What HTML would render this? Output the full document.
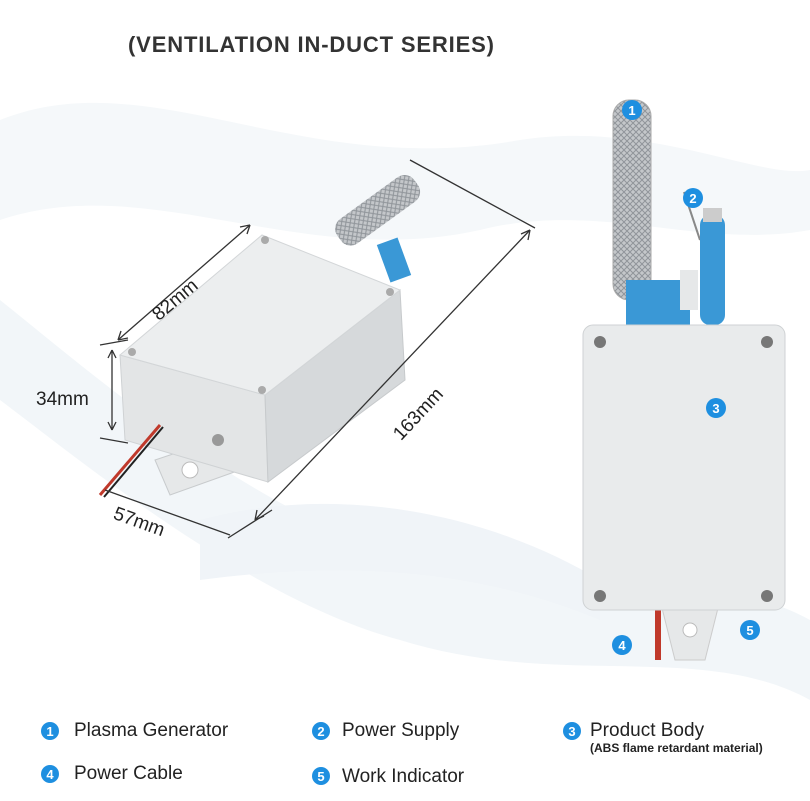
<!DOCTYPE html>
<html><head><meta charset="utf-8"><style>
html,body{margin:0;padding:0;background:#fff;}
body{width:810px;height:801px;position:relative;overflow:hidden;font-family:"Liberation Sans",sans-serif;}
.t{position:absolute;color:#222;white-space:nowrap;}
</style></head><body>
<svg width="810" height="801" style="position:absolute;left:0;top:0">
<defs>
<pattern id="mesh" width="6" height="6" patternUnits="userSpaceOnUse"><rect width="6" height="6" fill="#c4c7ca"/><path d="M0 0L6 6M6 0L0 6" stroke="#90959a" stroke-width="1"/></pattern>
</defs>
<path d="M0 120 C150 60 300 180 520 140 C650 120 760 180 810 170 L810 230 C700 250 600 200 480 230 C300 270 150 170 0 220Z" fill="#f5f8fa"/>
<path d="M0 300 C100 380 260 520 420 560 C560 600 700 560 810 620 L810 700 C700 640 560 690 400 640 C250 600 80 460 0 400Z" fill="#f2f6f9"/>
<path d="M200 520 C350 480 500 520 600 580 L600 620 C480 570 350 560 200 580Z" fill="#f0f4f8"/>
<g>
<rect x="330" y="195" width="95" height="30" rx="12" fill="url(#mesh)" transform="rotate(-36 378 210)" />
<rect x="383" y="240" width="22" height="40" fill="#3a98d6" transform="rotate(-20 394 260)"/>
<path d="M155 460 L215 440 L240 470 L170 495Z" fill="#e6e8e9" stroke="#c8cbcd"/>
<circle cx="190" cy="470" r="8" fill="#fff" stroke="#bbb"/>
<polygon points="120,355 265,395 268,482 125,440" fill="#e3e5e6" stroke="#cfd2d4"/>
<polygon points="265,395 400,290 405,380 268,482" fill="#d6d9db" stroke="#c7cacc"/>
<polygon points="120,355 262,235 400,290 265,395" fill="#eceeef" stroke="#d3d6d8"/>
<circle cx="132" cy="352" r="4" fill="#aaa"/><circle cx="265" cy="240" r="4" fill="#aaa"/><circle cx="262" cy="390" r="4" fill="#aaa"/><circle cx="390" cy="292" r="4" fill="#aaa"/>
<circle cx="218" cy="440" r="6" fill="#999"/>
<path d="M160 425 L100 495" stroke="#c0392b" stroke-width="3"/>
<path d="M163 427 L104 497" stroke="#222" stroke-width="2"/>
<g stroke="#333" stroke-width="1.3" fill="none">
<path d="M118 340 L250 225"/><path d="M118 340 l10 -2 M118 340 l3 -9 M250 225 l-10 2 M250 225 l-3 9"/>
<path d="M112 350 L112 430"/><path d="M112 350 l-4 8 M112 350 l4 8 M112 430 l-4 -8 M112 430 l4 -8"/>
<path d="M105 490 L230 535"/>
<path d="M255 520 L530 230"/><path d="M255 520 l2 -10 M255 520 l9 -4 M530 230 l-2 10 M530 230 l-9 4"/>
<path d="M100 345 L128 340 M100 438 L128 443 M410 160 L535 228 M228 538 L272 510"/>
</g>
</g>
<path d="M684 192 L700 240" stroke="#888" stroke-width="2"/>
<rect x="613" y="100" width="38" height="200" rx="16" fill="url(#mesh)" stroke="#aaa"/>
<rect x="626" y="280" width="64" height="45" fill="#3a98d6"/>
<rect x="680" y="270" width="18" height="40" fill="#e6e8e9"/>
<rect x="700" y="215" width="25" height="110" rx="10" fill="#3a98d6"/>
<rect x="703" y="208" width="19" height="14" fill="#ccc"/>
<path d="M662 608 L718 608 L705 660 L675 660Z" fill="#e6e8e9" stroke="#ccc"/>
<circle cx="690" cy="630" r="7" fill="#fff" stroke="#bbb"/>
<rect x="655" y="605" width="6" height="55" fill="#c0392b"/>
<rect x="583" y="325" width="202" height="285" rx="10" fill="#e9ebec" stroke="#cfd2d4"/>
<g fill="#777"><circle cx="600" cy="342" r="6"/><circle cx="767" cy="342" r="6"/><circle cx="600" cy="596" r="6"/><circle cx="767" cy="596" r="6"/></g>
<g font-family="Liberation Sans,sans-serif" font-size="13" font-weight="bold" fill="#fff" text-anchor="middle">
<circle cx="632" cy="110" r="10" fill="#1e8fe0"/><text x="632" y="115">1</text>
<circle cx="693" cy="198" r="10" fill="#1e8fe0"/><text x="693" y="203">2</text>
<circle cx="716" cy="408" r="10" fill="#1e8fe0"/><text x="716" y="413">3</text>
<circle cx="622" cy="645" r="10" fill="#1e8fe0"/><text x="622" y="650">4</text>
<circle cx="750" cy="630" r="10" fill="#1e8fe0"/><text x="750" y="635">5</text>
<circle cx="50" cy="731" r="9" fill="#1e8fe0"/><text x="50" y="736">1</text>
<circle cx="321" cy="731" r="9" fill="#1e8fe0"/><text x="321" y="736">2</text>
<circle cx="572" cy="731" r="9" fill="#1e8fe0"/><text x="572" y="736">3</text>
<circle cx="50" cy="774" r="9" fill="#1e8fe0"/><text x="50" y="779">4</text>
<circle cx="321" cy="776" r="9" fill="#1e8fe0"/><text x="321" y="781">5</text>
</g>
<g font-family="Liberation Sans,sans-serif" font-size="19" fill="#222">
<text x="140" y="310" transform="rotate(-40 165 290)">82mm</text>
<text x="36" y="405">34mm</text>
<text x="112" y="530" transform="rotate(20 145 525)">57mm</text>
<text x="370" y="420" transform="rotate(-47 410 395)">163mm</text>
</g>
</svg>
<div class="t" style="left:128px;top:32px;font-size:22px;font-weight:bold;letter-spacing:0.85px;color:#333;">(VENTILATION IN-DUCT SERIES)</div>
<div class="t" style="left:74px;top:720px;font-size:19px;">Plasma Generator</div>
<div class="t" style="left:342px;top:720px;font-size:19px;">Power Supply</div>
<div class="t" style="left:590px;top:720px;font-size:19px;">Product Body</div>
<div class="t" style="left:590px;top:741px;font-size:12px;font-weight:bold;">(ABS flame retardant material)</div>
<div class="t" style="left:74px;top:763px;font-size:19px;">Power Cable</div>
<div class="t" style="left:342px;top:766px;font-size:19px;">Work Indicator</div>
</body></html>
